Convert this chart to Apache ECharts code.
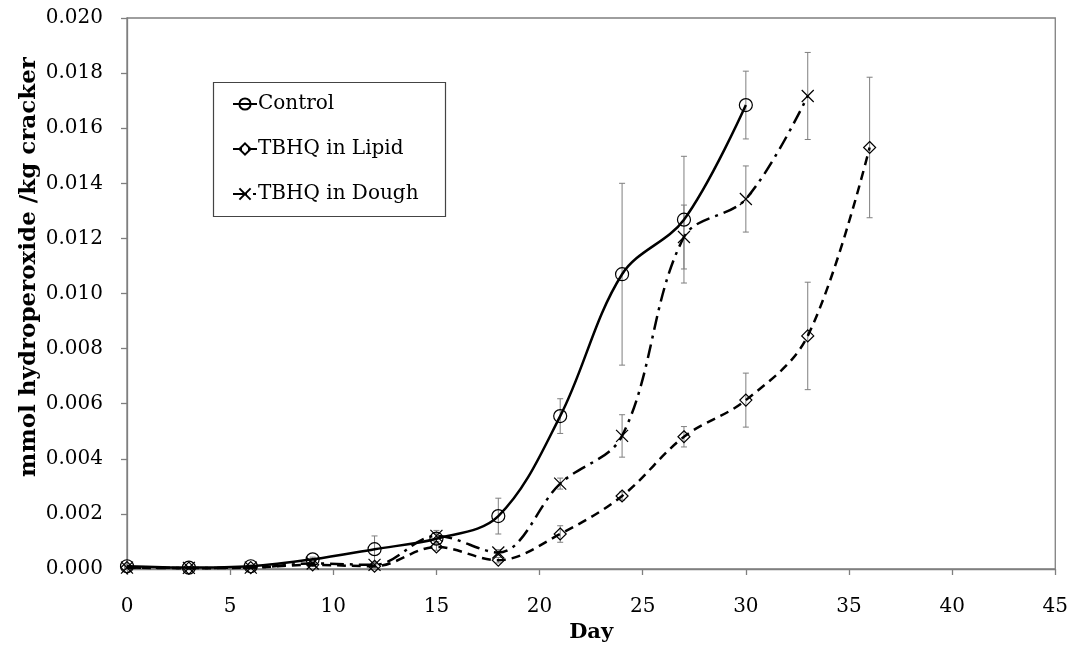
<!DOCTYPE html>
<html>
<head>
<meta charset="utf-8">
<script src="https://cdn.jsdelivr.net/npm/echarts@6/dist/echarts.min.js"></script>
<style>html,body{margin:0;padding:0;background:#fff}#c{width:1071px;height:648px}</style>
</head>
<body>
<div id="c"></div>
<script>
// ---- data ----
const controlDays = [0, 3, 6, 9, 12, 15, 18, 21, 24, 27, 30];
const controlVals = [0.00010, 0.00005, 0.00010, 0.00035, 0.00072, 0.00110, 0.00192, 0.00555, 0.01070, 0.01268, 0.01684];
const controlErr  = [0.00005, 0.00003, 0.00005, 0.00008, 0.00048, 0.00020, 0.00065, 0.00063, 0.00330, 0.00230, 0.00123];

const lipidDays = [0, 3, 6, 9, 12, 15, 18, 21, 24, 27, 30, 33, 36];
const lipidVals = [0.00005, 0.00003, 0.00005, 0.00015, 0.00010, 0.00080, 0.00032, 0.00127, 0.00265, 0.00480, 0.00613, 0.00846, 0.01530];
const lipidErr  = [0.00003, 0.00002, 0.00003, 0.00005, 0.00005, 0.00012, 0.00010, 0.00030, 0.00015, 0.00037, 0.00098, 0.00195, 0.00255];

const doughDays = [0, 3, 6, 9, 12, 15, 18, 21, 24, 27, 30, 33];
const doughVals = [0.00005, 0.00004, 0.00005, 0.00020, 0.00015, 0.00120, 0.00060, 0.00310, 0.00483, 0.01205, 0.01343, 0.01717];
const doughErr  = [0.00003, 0.00002, 0.00003, 0.00005, 0.00008, 0.00020, 0.00010, 0.00020, 0.00077, 0.00116, 0.00120, 0.00158];

const seriesNames = ['Control', 'TBHQ in Lipid', 'TBHQ in Dough'];
const xTitle = 'Day';
const yTitle = 'mmol hydroperoxide /kg cracker';

// ---- build ----
const zip = (xs, ys) => xs.map((x, i) => [x, ys[i]]);
const errData = (xs, ys, es) => xs.map((x, i) => [x, ys[i] - es[i], ys[i] + es[i]]);

const FONT = 'DejaVu Serif';
const GRAY = '#7f7f7f';

function errorSeries(data) {
  return {
    type: 'custom',
    z: 1,
    silent: true,
    legendHoverLink: false,
    data: data,
    renderItem: function (params, api) {
      const x = api.value(0);
      const lo = api.coord([x, api.value(1)]);
      const hi = api.coord([x, api.value(2)]);
      const cap = 3;
      const style = { stroke: GRAY, lineWidth: 1 };
      return {
        type: 'group',
        children: [
          { type: 'line', shape: { x1: lo[0], y1: lo[1], x2: hi[0], y2: hi[1] }, style: style },
          { type: 'line', shape: { x1: lo[0] - cap, y1: lo[1], x2: lo[0] + cap, y2: lo[1] }, style: style },
          { type: 'line', shape: { x1: hi[0] - cap, y1: hi[1], x2: hi[0] + cap, y2: hi[1] }, style: style }
        ]
      };
    }
  };
}

const chart = echarts.init(document.getElementById('c'), null, { renderer: 'canvas' });
const option = {
  backgroundColor: '#fff',
  animation: false,
  textStyle: { fontFamily: FONT, color: '#000' },
  grid: { left: 127, right: 15, top: 18, bottom: 79, show: true, borderColor: GRAY, borderWidth: 1.3, containLabel: false },
  xAxis: {
    type: 'value', min: 0, max: 45, interval: 5,
    name: xTitle, nameLocation: 'middle', nameGap: 53,
    nameTextStyle: { fontFamily: FONT, fontWeight: 'bold', fontSize: 21, color: '#000' },
    axisLine: { show: true, lineStyle: { color: GRAY, width: 1.3 } },
    axisTick: { show: true, inside: false, length: 6, lineStyle: { color: GRAY, width: 1.3 } },
    axisLabel: { fontFamily: FONT, fontSize: 20, color: '#000', margin: 28 },
    splitLine: { show: false }
  },
  yAxis: {
    type: 'value', min: 0, max: 0.02, interval: 0.002,
    axisLine: { show: true, lineStyle: { color: GRAY, width: 1.3 } },
    axisTick: { show: true, inside: false, length: 6, lineStyle: { color: GRAY, width: 1.3 } },
    axisLabel: { fontFamily: FONT, fontSize: 20, color: '#000', margin: 24, formatter: v => v.toFixed(3) },
    splitLine: { show: false }
  },
  legend: {
    orient: 'vertical', left: 232, top: 94, padding: 0, itemGap: 25,
    itemWidth: 24, itemHeight: 14,
    textStyle: { fontFamily: FONT, fontSize: 20, color: '#000', lineHeight: 20, padding: [0, 0, 0, -4] },
    data: seriesNames
  },
  graphic: [{
    type: 'rect', left: 211, top: 80, z: 0,
    shape: { width: 232, height: 134 },
    style: { fill: 'none', stroke: '#444', lineWidth: 1.2 }
  }, {
    type: 'text', x: 29, y: 267, rotation: Math.PI / 2,
    style: {
      text: yTitle, fill: '#000', font: 'bold 23px "DejaVu Serif"',
      textAlign: 'center', textVerticalAlign: 'middle'
    }
  }],
  series: [
    errorSeries(errData(controlDays, controlVals, controlErr)),
    errorSeries(errData(lipidDays, lipidVals, lipidErr)),
    errorSeries(errData(doughDays, doughVals, doughErr)),
    {
      name: seriesNames[0], type: 'line', z: 3, smooth: 0.35,
      data: zip(controlDays, controlVals),
      symbol: 'circle', symbolSize: 13,
      lineStyle: { color: '#000', width: 2.5, type: 'solid' },
      itemStyle: { color: 'rgba(255,255,255,0)', borderColor: '#000', borderWidth: 1.2 }
    },
    {
      name: seriesNames[1], type: 'line', z: 3, smooth: 0.35,
      data: zip(lipidDays, lipidVals),
      symbol: 'diamond', symbolSize: 12,
      lineStyle: { color: '#000', width: 2.5, type: [9, 6] },
      itemStyle: { color: 'rgba(255,255,255,0)', borderColor: '#000', borderWidth: 1.2 }
    },
    {
      name: seriesNames[2], type: 'line', z: 3, smooth: 0.35,
      data: zip(doughDays, doughVals),
      symbol: 'path://M0,0L10,10M10,0L0,10', symbolSize: 12,
      lineStyle: { color: '#000', width: 2.5, type: [14, 6, 3, 6] },
      itemStyle: { color: 'rgba(255,255,255,0)', borderColor: '#000', borderWidth: 1.2 }
    }
  ]
};
chart.setOption(option);
</script>
</body>
</html>
